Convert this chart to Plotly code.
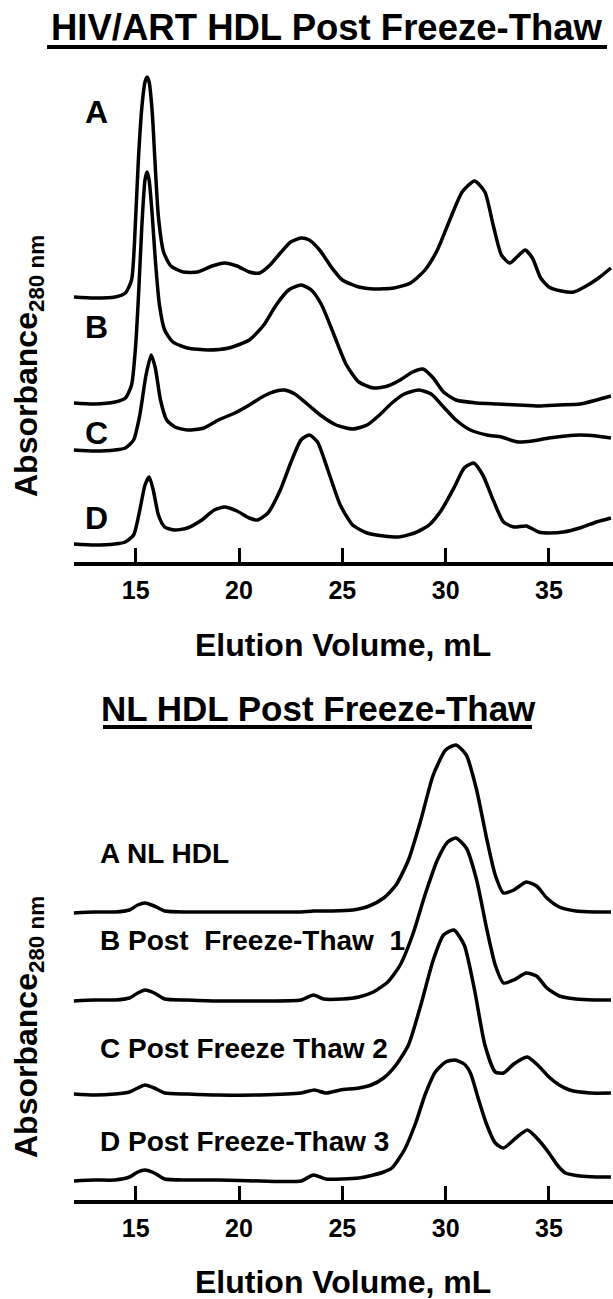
import plotly.graph_objects as go

# ---------------- data (top panel: HIV/ART HDL) ----------------
top_A_x = [12.0, 13.0, 14.0, 14.5, 14.8, 15.0, 15.13, 15.3, 15.45, 15.55, 15.65, 15.8, 15.93, 16.1, 16.35, 16.7,
           17.3, 18.0, 18.7, 19.3, 19.9, 20.5, 21.0, 21.5, 22.0, 22.5, 23.0, 23.4, 23.9, 24.5, 25.0, 25.8,
           26.5, 27.5, 28.3, 29.0, 29.6, 30.2, 30.8, 31.4, 31.9, 32.3, 32.7, 33.1, 33.5, 33.85, 34.2, 34.6,
           35.0, 35.6, 36.2, 36.8, 37.4, 38.0]
top_A_y = [26.5, 26.4, 26.5, 26.9, 28.2, 34.5, 40.2, 45.5, 48.0, 48.5, 48.0, 45.0, 40.2, 34.5, 31.0, 29.6,
           29.0, 29.0, 29.6, 29.9, 29.6, 29.0, 28.9, 29.7, 30.9, 32.0, 32.4, 32.2, 31.2, 29.4, 28.2, 27.5,
           27.3, 27.4, 27.9, 29.2, 31.2, 34.2, 37.0, 38.1, 37.0, 33.7, 30.7, 29.9, 30.6, 31.2, 30.4, 28.4,
           27.5, 27.1, 27.0, 27.6, 28.4, 29.4]

top_B_x = [12.0, 13.0, 14.0, 14.5, 14.8, 15.0, 15.15, 15.3, 15.45, 15.55, 15.65, 15.8, 15.95, 16.15, 16.4, 16.8,
           17.5, 18.5, 19.5, 20.5, 21.2, 21.8, 22.4, 23.0, 23.5, 24.0, 24.6, 25.2, 25.8, 26.5, 27.2, 27.8,
           28.4, 28.9, 29.4, 29.9, 30.5, 31.5, 32.5, 33.5, 34.5, 35.5, 36.5, 37.3, 38.0]
top_B_y = [15.9, 15.8, 16.0, 16.4, 17.7, 21.7, 27.2, 33.7, 38.2, 39.0, 38.2, 34.7, 30.2, 25.7, 23.2, 22.0,
           21.4, 21.2, 21.4, 22.2, 23.7, 25.7, 27.2, 27.7, 27.2, 25.7, 22.7, 19.7, 18.0, 17.4, 17.6, 18.2,
           19.0, 19.3, 18.4, 17.0, 16.2, 15.9, 15.8, 15.7, 15.6, 15.7, 15.8, 16.2, 16.6]

top_C_x = [12.0, 13.0, 14.0, 14.5, 14.9, 15.2, 15.5, 15.75, 15.95, 16.2, 16.5, 16.9, 17.5, 18.3, 19.0, 19.8,
           20.5, 21.2, 21.8, 22.2, 22.7, 23.3, 24.0, 24.7, 25.5, 26.2, 26.8, 27.4, 28.0, 28.7, 29.3, 29.9,
           30.5, 31.2, 32.0, 32.7, 33.5, 34.2, 35.0, 35.8, 36.5, 37.3, 38.0]
top_C_y = [11.2, 11.1, 11.2, 11.4, 12.2, 14.7, 18.7, 20.7, 19.4, 16.2, 14.2, 13.5, 13.2, 13.4, 14.2, 14.9,
           15.7, 16.6, 17.1, 17.2, 16.8, 15.8, 14.6, 13.7, 13.3, 13.7, 14.7, 15.9, 16.8, 17.2, 16.8, 15.5,
           14.2, 13.2, 12.7, 12.5, 12.0, 12.1, 12.4, 12.6, 12.7, 12.6, 12.4]

top_D_x = [12.0, 13.0, 14.0, 14.5, 14.9, 15.2, 15.45, 15.65, 15.85, 16.1, 16.4, 16.9, 17.5, 18.2, 18.8, 19.3,
           19.9, 20.5, 20.9, 21.4, 22.0, 22.5, 23.0, 23.4, 23.8, 24.3, 24.9, 25.5, 26.2, 27.0, 27.7, 28.5,
           29.2, 29.8, 30.4, 30.9, 31.35, 31.8, 32.3, 32.8, 33.3, 33.9, 34.5, 35.0, 35.7, 36.5, 37.3, 38.0]
top_D_y = [1.8, 1.7, 1.8, 2.0, 2.7, 5.2, 7.7, 8.5, 7.2, 4.7, 3.5, 3.2, 3.4, 4.2, 5.2, 5.5,
           5.1, 4.4, 4.2, 4.9, 7.2, 9.9, 12.2, 12.7, 12.0, 9.2, 5.7, 3.7, 2.9, 2.6, 2.5, 2.9,
           3.7, 5.2, 7.4, 9.4, 9.9, 8.7, 6.2, 4.0, 3.5, 3.6, 3.0, 2.9, 3.0, 3.4, 4.0, 4.4]

# ---------------- data (bottom panel: NL HDL) ----------------
bot_A_x = [12.0, 13.0, 14.0, 14.7, 15.1, 15.45, 15.9, 16.4, 17.5, 19.0, 21.0, 23.0, 23.6, 24.5, 25.5, 26.3,
           27.0, 27.6, 28.2, 28.8, 29.4, 30.0, 30.5, 31.0, 31.5, 32.0, 32.4, 32.8, 33.3, 33.9, 34.4, 34.9,
           35.5, 36.3, 37.2, 38.0]
bot_A_y = [28.7, 28.8, 28.8, 29.0, 29.5, 29.7, 29.4, 28.9, 28.8, 28.8, 28.8, 28.8, 28.9, 28.9, 29.0, 29.4,
           30.2, 31.5, 34.0, 38.0, 42.5, 45.0, 45.5, 44.5, 41.0, 36.0, 32.5, 30.7, 31.0, 31.8, 31.4, 30.2,
           29.3, 28.9, 28.8, 28.8]

bot_B_x = [12.0, 13.0, 14.0, 14.7, 15.1, 15.45, 15.9, 16.4, 17.5, 19.0, 21.0, 23.0, 23.6, 24.1, 25.0, 25.8,
           26.5, 27.2, 27.8, 28.4, 29.0, 29.6, 30.1, 30.5, 31.0, 31.5, 32.0, 32.4, 32.8, 33.3, 33.9, 34.4,
           34.9, 35.5, 36.3, 37.2, 38.0]
bot_B_y = [19.9, 20.0, 20.0, 20.2, 20.7, 21.0, 20.7, 20.1, 20.0, 19.9, 19.9, 20.0, 20.5, 20.1, 20.1, 20.3,
           20.8, 21.8, 23.5, 26.5, 30.5, 34.0, 35.8, 36.2, 35.2, 32.0, 27.0, 23.5, 21.7, 22.0, 22.7, 22.4,
           21.2, 20.4, 20.1, 20.0, 20.0]

bot_C_x = [12.0, 13.0, 14.0, 14.7, 15.1, 15.45, 15.9, 16.4, 17.5, 19.0, 21.0, 23.0, 23.65, 24.2, 24.9, 25.8,
           26.4, 27.0, 27.6, 28.2, 28.8, 29.4, 29.9, 30.4, 30.9, 31.4, 31.9, 32.4, 32.8, 33.3, 33.95, 34.5,
           35.0, 35.5, 36.0, 37.0, 38.0]
bot_C_y = [10.6, 10.5, 10.6, 10.8, 11.2, 11.5, 11.2, 10.7, 10.6, 10.5, 10.5, 10.7, 11.0, 10.7, 11.0, 11.2,
           11.5, 12.2, 13.5, 15.5, 19.5, 24.0, 26.5, 27.0, 25.5, 21.0, 15.5, 12.8, 12.7, 13.6, 14.3, 13.4,
           12.3, 11.5, 11.0, 10.7, 10.7]

bot_D_x = [12.0, 13.0, 14.0, 14.7, 15.1, 15.45, 15.9, 16.4, 17.5, 19.0, 21.0, 23.0, 23.6, 24.2, 25.0, 25.8,
           26.5, 27.0, 27.4, 28.0, 28.55, 29.0, 29.5, 30.0, 30.45, 30.9, 31.2, 31.6, 31.96, 32.4, 32.8, 33.4,
           33.96, 34.5, 35.0, 35.4, 35.8, 36.5, 37.3, 38.0]
bot_D_y = [1.9, 2.0, 2.0, 2.3, 2.8, 3.0, 2.7, 2.1, 2.0, 2.0, 1.9, 1.9, 2.5, 2.1, 2.1, 2.2,
           2.5, 2.8, 3.2, 5.0, 7.7, 10.5, 12.8, 13.8, 14.0, 13.6, 12.7, 10.0, 7.7, 5.7, 5.2, 6.2,
           7.0, 6.0, 4.7, 3.5, 2.7, 2.4, 2.3, 2.3]

tick_vals = [15, 20, 25, 30, 35]
tick_text = ["15", "20", "25", "30", "35"]

top_labels = ["A", "B", "C", "D"]
bot_labels = ["A NL HDL", "B Post  Freeze-Thaw  1", "C Post Freeze Thaw 2", "D Post Freeze-Thaw 3"]
titles = ["HIV/ART HDL Post Freeze-Thaw", "NL HDL Post Freeze-Thaw"]
x_title = "Elution Volume, mL"
y_title = "Absorbance<sub>280 nm</sub>"

# ---------------- figure ----------------
W, H = 613, 1299
FONT = "Liberation Sans, Arial, sans-serif"

def px_y(p):
    return (H - p) / H

def px_x(p):
    return p / W

fig = go.Figure()
line = dict(color="black", width=3.5, shape="spline", smoothing=0.6)

for xs, ys in [(top_A_x, top_A_y), (top_B_x, top_B_y), (top_C_x, top_C_y), (top_D_x, top_D_y)]:
    fig.add_trace(go.Scatter(x=xs, y=ys, mode="lines", line=line, xaxis="x", yaxis="y",
                             showlegend=False, hoverinfo="skip"))
for xs, ys in [(bot_A_x, bot_A_y), (bot_B_x, bot_B_y), (bot_C_x, bot_C_y), (bot_D_x, bot_D_y)]:
    fig.add_trace(go.Scatter(x=xs, y=ys, mode="lines", line=line, xaxis="x2", yaxis="y2",
                             showlegend=False, hoverinfo="skip"))

xdom = [73.7 / W, 1.0]
xax = dict(range=[12, 38.1], domain=xdom, tickvals=tick_vals, ticktext=tick_text,
           ticks="inside", ticklen=14, tickwidth=3, tickcolor="black",
           showline=True, linewidth=4, linecolor="black", showgrid=False, zeroline=False,
           tickfont=dict(family=FONT, size=25, color="black", weight="bold"),
           ticklabelstandoff=3, fixedrange=True)

fig.update_layout(
    width=W, height=H, margin=dict(l=0, r=0, t=0, b=0),
    paper_bgcolor="white", plot_bgcolor="white",
    xaxis=dict(xax, anchor="y"),
    xaxis2=dict(xax, anchor="y2"),
    yaxis=dict(domain=[px_y(562), px_y(62)], range=[0, 50], visible=False, fixedrange=True),
    yaxis2=dict(domain=[px_y(1200), px_y(700)], range=[0, 50], visible=False, fixedrange=True),
)

ann = []
ann.append(dict(text=titles[0], x=px_x(327), y=px_y(27), xref="paper", yref="paper",
                showarrow=False, xanchor="center", yanchor="middle",
                font=dict(family=FONT, size=36.5, color="black", weight="bold")))
ann.append(dict(text=titles[1], x=px_x(318), y=px_y(708), xref="paper", yref="paper",
                showarrow=False, xanchor="center", yanchor="middle",
                font=dict(family=FONT, size=35, color="black", weight="bold")))
for py in (645, 1282):
    ann.append(dict(text=x_title, x=px_x(343), y=px_y(py), xref="paper", yref="paper",
                    showarrow=False, xanchor="center", yanchor="middle",
                    font=dict(family=FONT, size=32, color="black", weight="bold")))
for py in (366, 1027):
    ann.append(dict(text=y_title, x=px_x(28), y=px_y(py), xref="paper", yref="paper",
                    showarrow=False, xanchor="center", yanchor="middle", textangle=-90,
                    font=dict(family=FONT, size=32, color="black", weight="bold")))
for lab, yv in zip(top_labels, [45.0, 23.5, 12.9, 4.4]):
    ann.append(dict(text=lab, x=13.08, y=yv, xref="x", yref="y", showarrow=False,
                    xanchor="center", yanchor="middle",
                    font=dict(family=FONT, size=32, color="black", weight="bold")))
for lab, yv in zip(bot_labels, [34.7, 26.0, 15.2, 5.9]):
    ann.append(dict(text=lab, x=13.18, y=yv, xref="x2", yref="y2", showarrow=False,
                    xanchor="left", yanchor="middle",
                    font=dict(family=FONT, size=28, color="black", weight="bold")))
fig.update_layout(annotations=ann)

fig.add_shape(type="line", xref="paper", yref="paper", x0=px_x(47), x1=px_x(607),
              y0=px_y(47), y1=px_y(47), line=dict(color="black", width=4))
fig.add_shape(type="line", xref="paper", yref="paper", x0=px_x(103), x1=px_x(532),
              y0=px_y(727), y1=px_y(727), line=dict(color="black", width=4))

fig.write_html("out.html", config={"staticPlot": True},
               post_script="document.body.style.margin='0px';document.body.style.padding='0px';")
